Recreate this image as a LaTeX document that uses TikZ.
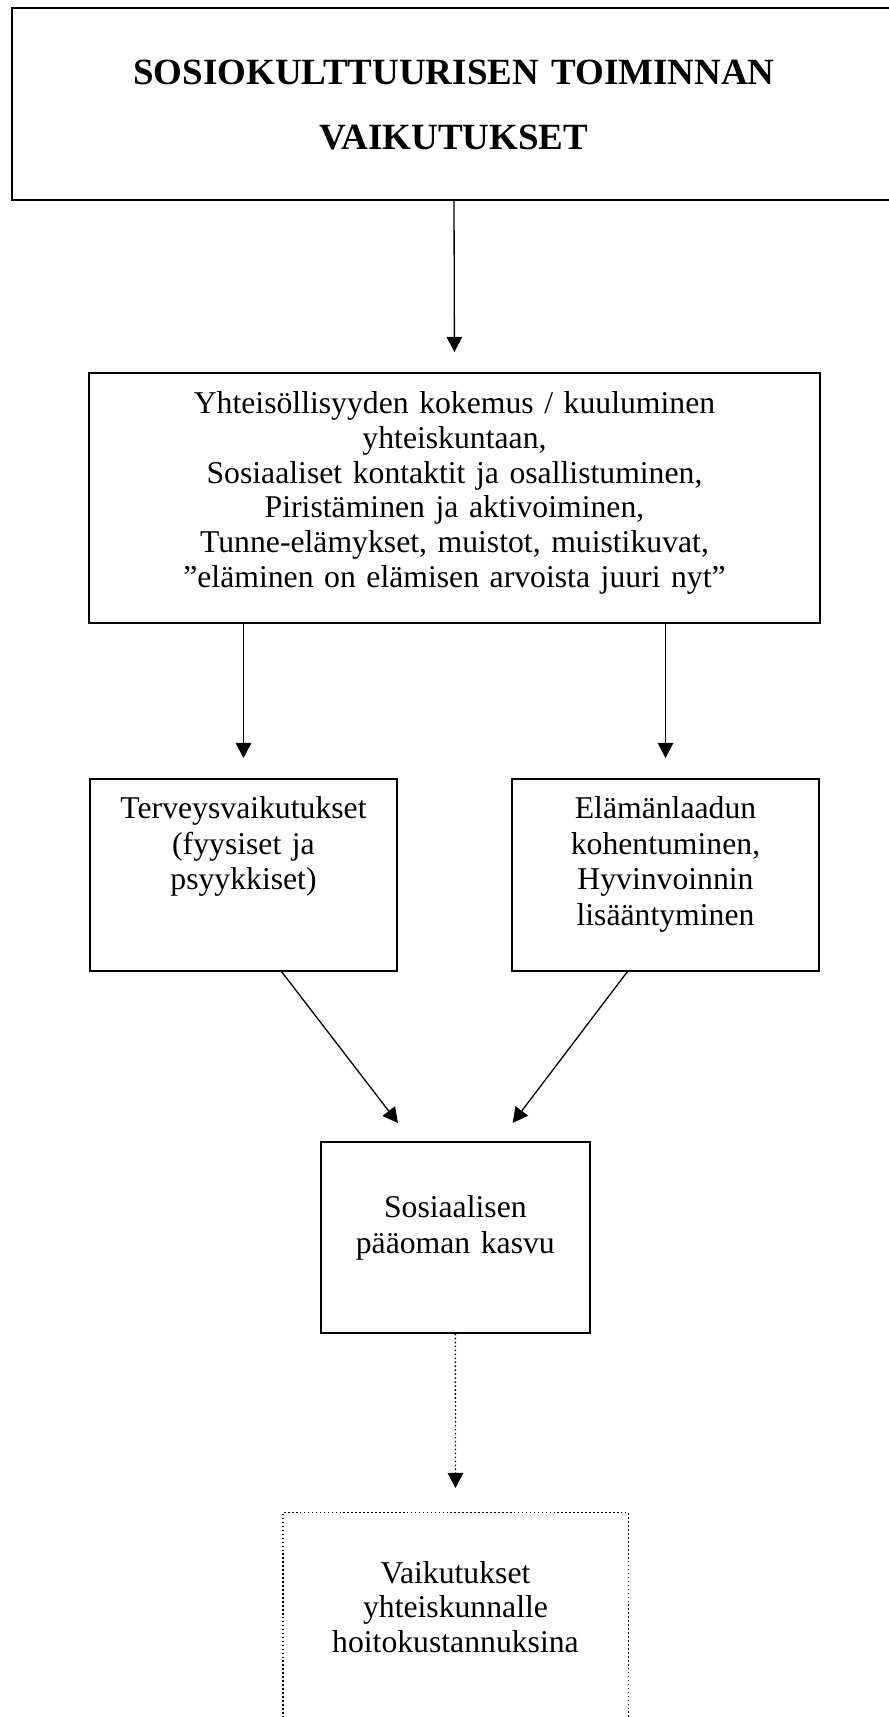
\documentclass[tikz,border=0pt]{standalone}
\usepackage{fontspec}
\setmainfont{Liberation Serif}
\usetikzlibrary{arrows.meta}

\begin{document}
\begin{tikzpicture}[x=0.3785pt,y=-0.3785pt,
laatikko/.style={draw,line width=0.65pt,inner sep=0pt,anchor=north,align=center,text height=15pt,font=\fontsize{12pt}{13.4pt}\selectfont},
nuoli/.style={-{Triangle[length=5.7pt,width=5.9pt]},line width=0.5pt},
pisteet/.style={dash pattern=on 0.6pt off 0.9pt}]
\useasboundingbox (0,0) rectangle (889,1717);
\clip (0,0) rectangle (889,1717);
\node[laatikko,text width=334.6pt,text height=28.8pt,text depth=43.8pt,font=\fontsize{14pt}{24.6pt}\selectfont\bfseries] (otsikko) at (454,7.3) {SOSIOKULTTUURISEN TOIMINNAN\\VAIKUTUKSET};
\node[laatikko,text width=276.7pt,text height=15.3pt,text depth=79.3pt,font=\fontsize{12pt}{13.2pt}\selectfont] (yht) at (454.5,372) {Yhteisöllisyyden kokemus / kuuluminen\\yhteiskuntaan,\\Sosiaaliset kontaktit ja osallistuminen,\\Piristäminen ja aktivoiminen,\\Tunne-elämykset, muistot, muistikuvat,\\”eläminen on elämisen arvoista juuri nyt”};
\node[laatikko,text width=116.2pt,text depth=57.5pt] (terv) at (243.5,778.3) {Terveysvaikutukset\\(fyysiset ja\\psyykkiset)};
\node[laatikko,text width=116.2pt,text depth=57.5pt] (elam) at (665.5,778.3) {Elämänlaadun\\kohentuminen,\\Hyvinvoinnin\\lisääntyminen};
\node[laatikko,text width=101.9pt,text height=28.7pt,text depth=43.6pt] (sos) at (455.35,1141) {Sosiaalisen\\pääoman kasvu};
\node[laatikko,pisteet,line width=0.4pt,text width=130.6pt,text height=26.8pt,text depth=59.5pt,font=\fontsize{12pt}{13.1pt}\selectfont] (vaik) at (455.5,1512) {Vaikutukset\\yhteiskunnalle\\hoitokustannuksina};
\draw[nuoli,shorten >=7.6pt] (otsikko.south) -- (yht.north);
\draw[nuoli,shorten >=7.7pt] (yht.south -| terv.north) -- (terv.north);
\draw[nuoli,shorten >=7.7pt] (yht.south -| elam.north) -- (elam.north);
\draw[nuoli,shorten >=8.6pt] ([xshift=14.4pt]terv.south) -- ([xshift=-16.5pt]sos.north);
\draw[nuoli,shorten >=8.6pt] ([xshift=-14.4pt]elam.south) -- ([xshift=16.5pt]sos.north);
\draw[nuoli,pisteet,shorten >=9.1pt] (sos.south) -- (vaik.north);
\end{tikzpicture}
\end{document}
